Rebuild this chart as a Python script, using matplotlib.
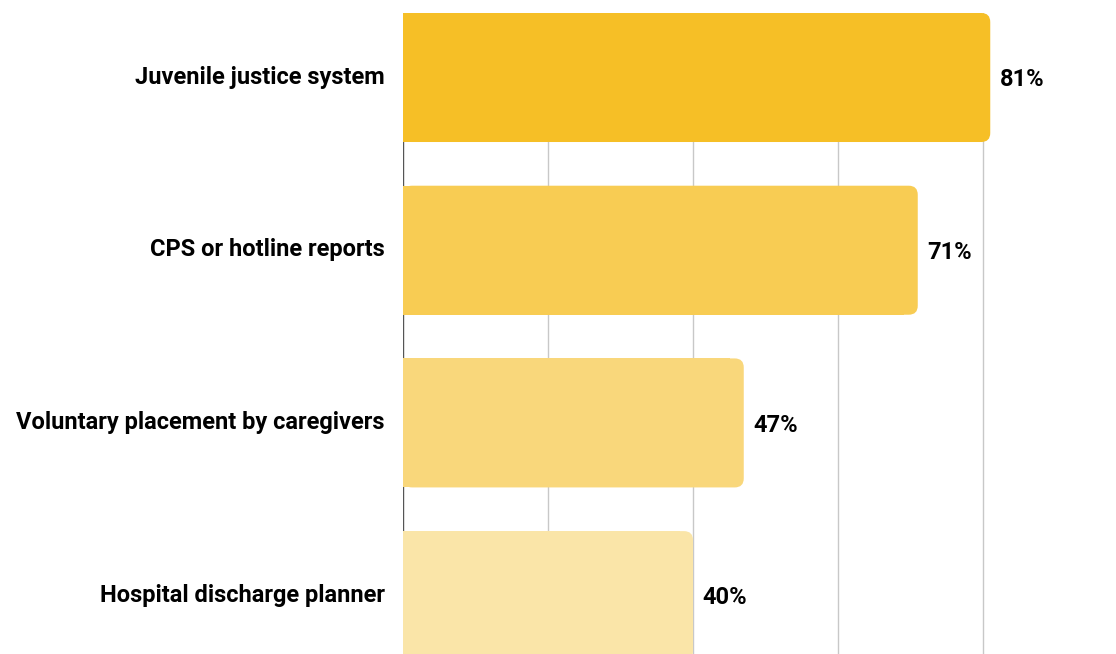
import matplotlib.pyplot as plt
import matplotlib.transforms as mtransforms
from matplotlib.patches import FancyBboxPatch

categories = ['Juvenile justice system', 'CPS or hotline reports',
              'Voluntary placement by caregivers', 'Hospital discharge planner']
values = [81, 71, 47, 40]
colors = ['#F6BF26', '#F8CC53', '#F9D77B', '#FAE5A8']

plt.rcParams['font.family'] = ['Roboto', 'DejaVu Sans']

fig = plt.figure(figsize=(11.16, 6.54), dpi=100)
ax = fig.add_axes([403 / 1116, 0, 713 / 1116, 641 / 654])

ypos = list(range(len(categories)))
height = 0.747
bars = ax.barh(ypos, values, height=height, color=colors, zorder=3)

ax.set_xlim(0, 713 / 7.25)
ax.set_ylim(3.338, -0.3735)

# right-hand corners rounded: shorten the square bar, lay a rounded box over it
rx = 9 / 7.25
ry = 9 / 172.7
for bar, c in zip(bars, colors):
    x, y = bar.get_x(), bar.get_y()
    w, h = bar.get_width(), bar.get_height()
    bar.set_width(w - rx * 1.5)
    box = FancyBboxPatch((x, y), w, h,
                         boxstyle=f'round,pad=0,rounding_size={rx}',
                         mutation_aspect=ry / rx,
                         facecolor=c, edgecolor='none', zorder=3)
    ax.add_patch(box)
    ax.annotate(f'{w:.0f}%', (w, y + h / 2), xytext=(7, -1.5),
                textcoords='offset points', va='center', ha='left',
                fontsize=17, fontweight='bold', color='#000000')

ax.set_xticks([20, 40, 60, 80])
ax.xaxis.grid(True, color='#c8c8c8', linewidth=1, zorder=0)
ax.axvline(0, color='#555555', linewidth=1, zorder=1)
ax.tick_params(axis='x', length=0, labelbottom=False)

ax.set_yticks(ypos)
ax.set_yticklabels(categories, fontsize=17, fontweight='bold', color='#000000')
ax.tick_params(axis='y', length=0, pad=13)
nudge = mtransforms.ScaledTranslation(0, 2 / 72, fig.dpi_scale_trans)
for lbl in ax.get_yticklabels():
    lbl.set_transform(lbl.get_transform() + nudge)

for s in ax.spines.values():
    s.set_visible(False)

fig.savefig('out.png', dpi=100)
